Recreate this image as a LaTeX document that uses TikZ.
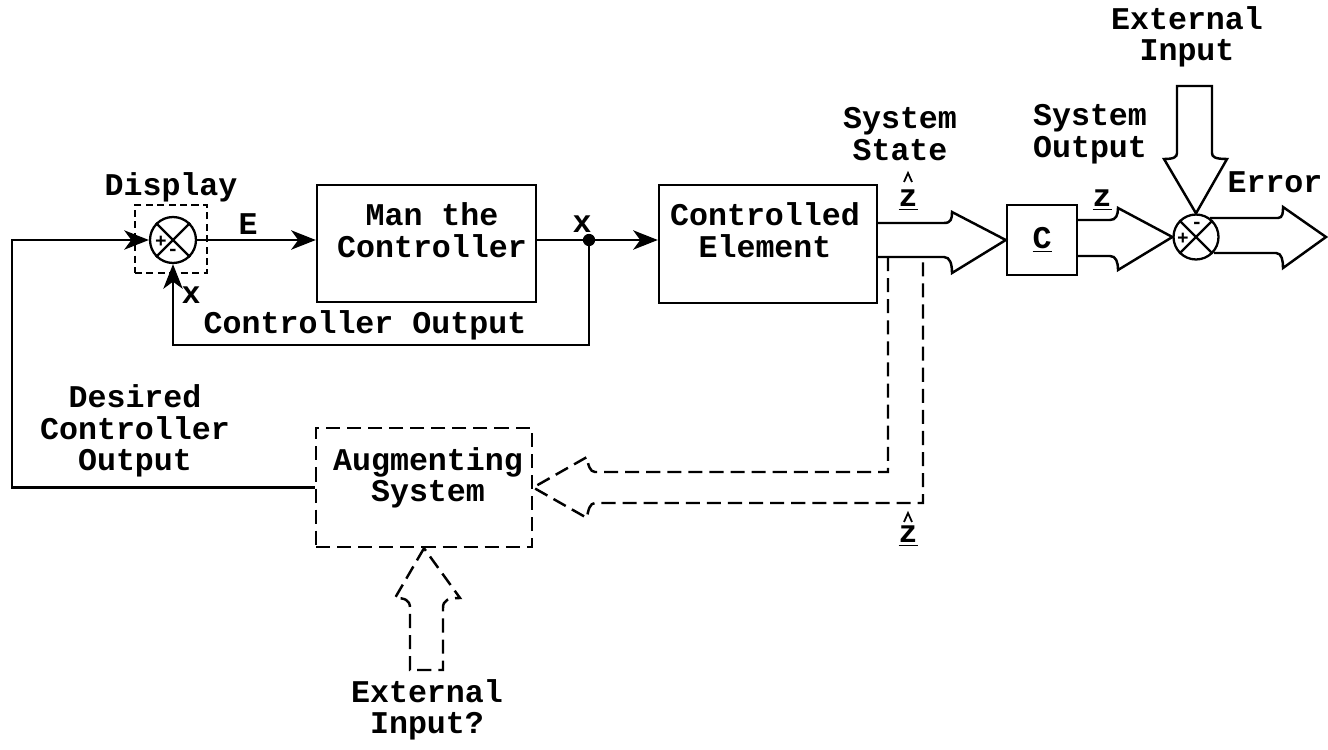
\documentclass[tikz,border=0pt]{standalone}
\usepackage{fontspec}
\setmainfont{Liberation Mono}
\usetikzlibrary{arrows.meta}
\begin{document}
\begin{tikzpicture}[x=0.02cm,y=-0.02cm,line width=1.3pt,
  font=\fontsize{18}{18}\selectfont\bfseries,
  box/.style={draw,line width=1.4pt,inner sep=0pt},
  lbl/.style={inner sep=0pt,align=center},
  sgn/.style={inner sep=0pt,font=\fontsize{11}{11}\selectfont\bfseries},
  sig/.style={-{Stealth[length=14pt,width=11pt,inset=4pt]}},
  dsh/.style={dash pattern=on 8pt off 4pt},
  fat/.style={line width=1.4pt,line join=miter}]
\useasboundingbox (0,0) rectangle (1328,750);

% blocks
\node[box,minimum width=4.38cm,minimum height=2.34cm] (man) at (426.5,243.5) {};
\node[lbl] (mantxt) at (432,230) {Man the\\Controller};
\node[box,minimum width=4.36cm,minimum height=2.36cm] (ce) at (768,244) {};
\node[lbl] (cetxt) at (765,230) {Controlled\\Element};
\node[box,dsh,minimum width=4.32cm,minimum height=2.38cm] (aug) at (424,487.5) {};
\node[lbl] (augtxt) at (428,478) {Augmenting\\System};
\node[box,minimum width=1.4cm,minimum height=1.4cm] (cbox) at (1042,240) {};
\node[lbl] (ctxt) at (1042,240) {\underline{C}};

% summing junctions
\node[draw,circle,minimum size=0.92cm,inner sep=0pt] (disp) at (173,240) {};
\draw (disp.north west) -- (disp.south east) (disp.north east) -- (disp.south west);
\node[sgn] (dplus) at (161,242) {+};
\node[sgn] (dminus) at (173,252) {-};
\node[draw,dash pattern=on 4pt off 2.5pt,line width=1.1pt,minimum width=1.44cm,minimum height=1.36cm,inner sep=0pt] (dbox) at (171,239) {};

\node[draw,circle,minimum size=0.9cm,inner sep=0pt] (err) at (1196,237) {};
\draw (err.north west) -- (err.south east) (err.north east) -- (err.south west);
\node[sgn] (eminus) at (1197,225) {-};
\node[sgn] (eplus) at (1183,239) {+};

% labels
\node[lbl] (ldisp) at (171,187) {Display};
\node[lbl] (lE) at (248,224) {E};
\node[lbl] (lx1) at (191,295) {x};
\node[lbl] (lx2) at (582,224) {x};
\node[lbl] (lco) at (365,325) {Controller Output};
\node[lbl] (ldes) at (135,431) {Desired\\Controller\\Output};
\node[lbl] (lss) at (900,134) {System\\State};
\node[lbl] (lso) at (1090,134) {System\\Output};
\node[lbl] (lei) at (1187,37) {External\\Input};
\node[lbl] (lerr) at (1275,182) {Error};
\node[lbl] (lei2) at (427,710) {External\\Input?};
\node[lbl] (lz1) at (908,200) {\underline{z}};
\node[lbl] (lz2) at (1102,200) {\underline{z}};
\node[lbl] (lz3) at (908,536) {\underline{z}};
\draw[line width=1pt] (904,182) -- (908,173) -- (912,182);
\draw[line width=1pt] (904,522) -- (908,513) -- (912,522);

% signal lines
\coordinate (dot) at (589,240);
\draw[sig] (aug.west) -- (12,487.5) -- (12,240) -- (disp.west);
\draw[sig] (disp.east) -- (disp.east -| man.west);
\draw[sig] (man.east |- dot) -- (dot -| ce.west);
\fill (dot) circle[radius=3.5pt];
\draw[sig] (dot) -- (589,345) -- (173,345) -- (disp.south);

% fat arrow: system state
\draw[fat] (877,223) -- (944,223) .. controls (951,223) and (952,219) .. (952,212)
  -- (cbox.west) -- (952,273) .. controls (952,264) and (950,257) .. (944,257) -- (877,257);
% fat arrow: system output
\draw[fat] (cbox.east |- 0,220) -- (1110,220) .. controls (1116,220) and (1118,215) .. (1118,208)
  -- (err.west) -- (1118,270) .. controls (1118,262) and (1116,256) .. (1110,256) -- (cbox.east |- 0,256);
% fat arrow: external input (top)
\draw[fat] (1177,153) -- (1177,86) -- (1212,86) -- (1212,153)
  .. controls (1212,157) and (1215,159) .. (1227,159) -- (err.north)
  -- (1164,159) .. controls (1174,159) and (1177,157) .. (1177,153);
% fat arrow: error
\draw[fat] (1210,218) -- (1278,218) .. controls (1283,218) and (1283,212) .. (1283,207)
  -- (1326,237) -- (1283,268) .. controls (1283,261) and (1282,253) .. (1276,253) -- (1214,253);

% dashed fat arrow: z-hat to augmenting system
\draw[fat,dsh] (888,257) -- (888,472) -- (595,472) .. controls (590,472) and (588,465) .. (587,457)
  -- (aug.east) -- (587,518) .. controls (588,510) and (590,503) .. (595,503) -- (923,503) -- (923,257);
% dashed fat arrow: external input?
\draw[fat,dsh] (aug.south) -- (395,598) .. controls (405,598) and (410,600) .. (410,608)
  -- (410,670) -- (443,670) -- (443,608) .. controls (443,600) and (448,598) .. (460,598) -- (aug.south);
\end{tikzpicture}
\end{document}
